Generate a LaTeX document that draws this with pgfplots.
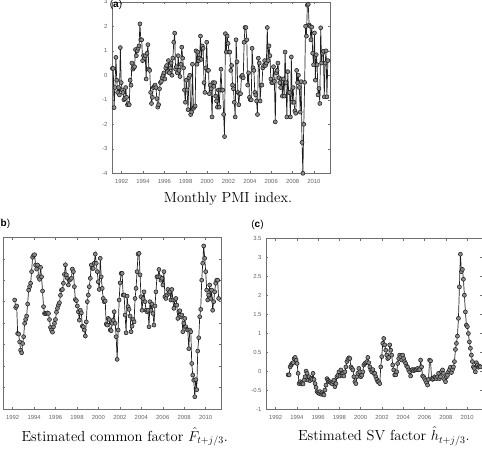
\documentclass[border=0pt]{standalone}
\usepackage{fontspec}
\usepackage{pgfplots}
\usepackage{pgfplotstable}
\pgfplotsset{compat=1.18}
\newfontfamily\tickfont{Liberation Sans}
\newfontfamily\labfont{Liberation Sans}

\definecolor{axgray}{RGB}{110,110,110}
\definecolor{lblgray}{RGB}{100,100,100}
\definecolor{serie}{RGB}{30,30,30}
\definecolor{markfill}{RGB}{140,140,140}

% Monthly PMI index, from 1991.13 onwards
\pgfplotstableread[header=false,row sep=\\]{
0.28\\0.28\\-1.32\\-0.5\\0.73\\-0.2\\-0.7\\-0.5\\-0.8\\1.13\\-0.3\\-0.6\\
-0.7\\-1.0\\-0.95\\-0.5\\-0.9\\-1.2\\-1.15\\-1.2\\-0.2\\-0.4\\0.5\\0.25\\
0.3\\0.35\\1.05\\0.8\\1.0\\1.1\\1.2\\2.1\\1.45\\1.45\\0.6\\0.8\\
0.7\\0.8\\-0.15\\0.9\\1.25\\0.25\\0.2\\-0.7\\-1.15\\-0.9\\-0.5\\-0.45\\
-0.4\\-0.5\\-0.95\\-1.3\\-1.2\\-0.55\\-0.3\\-0.25\\-0.1\\0.0\\0.1\\-0.15\\
0.3\\0.4\\0.15\\0.6\\0.1\\0.3\\0.5\\0.0\\0.7\\1.35\\1.72\\0.25\\
0.35\\0.1\\0.8\\0.2\\-0.05\\0.45\\1.15\\0.7\\0.3\\-0.6\\-1.1\\-0.2\\
-0.6\\-1.4\\-0.1\\0.0\\-1.6\\-1.5\\0.45\\-1.35\\-1.3\\-1.25\\1.0\\0.45\\
0.95\\0.6\\0.7\\1.6\\0.65\\1.2\\1.1\\-0.3\\-0.7\\0.3\\1.35\\0.2\\
0.2\\-0.75\\-0.4\\-0.55\\-1.7\\-0.3\\-0.45\\-0.3\\-0.85\\-1.05\\-1.3\\-0.6\\
-1.3\\-0.6\\0.25\\-0.6\\-0.6\\-1.6\\-2.5\\1.7\\0.95\\1.6\\1.3\\0.95\\
0.95\\0.2\\0.4\\-0.4\\-0.55\\-1.1\\-1.7\\1.45\\0.55\\-0.7\\-1.2\\-0.75\\
-0.75\\-0.05\\0.0\\-0.1\\1.35\\1.95\\1.95\\1.45\\-0.4\\0.1\\-0.9\\-1.0\\
-1.0\\1.1\\0.3\\0.2\\-0.7\\-0.8\\-1.05\\-1.6\\0.7\\0.5\\-1.05\\-0.4\\
-0.4\\0.3\\0.4\\0.6\\0.4\\0.5\\1.95\\0.6\\1.2\\0.8\\-0.15\\-0.3\\
-0.3\\0.35\\-0.25\\-1.9\\0.1\\0.2\\0.5\\-0.1\\-0.3\\-0.5\\-0.15\\-0.85\\
-0.15\\-0.85\\0.95\\-0.3\\-1.7\\0.15\\-0.7\\-0.7\\-1.7\\0.75\\-1.1\\-0.5\\
-1.1\\-1.45\\-1.55\\0.2\\-0.3\\0.0\\-0.5\\-1.5\\-0.26\\-2.74\\-4.0\\-2.0\\
-0.29\\2.0\\1.6\\2.86\\2.9\\2.05\\2.0\\1.45\\1.97\\0.9\\0.43\\1.73\\
-0.2\\0.84\\0.43\\-0.8\\-0.54\\-1.15\\1.94\\0.5\\0.9\\0.98\\-0.88\\0.5\\
1.0\\-0.88\\0.6\\
}\pmidata

% Estimated common factor, from 1992.19 onwards
\pgfplotstableread[header=false,row sep=\\]{
1.08\\0.73\\0.8\\-0.48\\-0.51\\-0.87\\-1.26\\-1.38\\-0.95\\-0.63\\-0.01\\0.17\\0.33\\0.89\\1.54\\1.7\\1.86\\2.4\\3.07\\3.16\\
3.19\\2.71\\2.52\\2.71\\2.16\\2.04\\2.6\\2.16\\1.5\\0.77\\0.45\\0.45\\0.45\\0.48\\0.45\\0.17\\-0.2\\-0.32\\-0.42\\-0.17\\
-0.01\\0.17\\0.51\\0.69\\0.84\\0.95\\1.3\\1.54\\1.57\\1.86\\2.27\\2.72\\2.25\\2.09\\1.78\\2.0\\2.04\\2.09\\2.52\\2.4\\
1.7\\1.1\\1.05\\0.8\\0.53\\0.14\\0.6\\0.48\\-0.14\\-0.17\\-0.32\\-0.6\\0.06\\1.0\\1.31\\1.7\\2.09\\2.71\\2.55\\2.55\\
2.79\\3.22\\2.79\\2.4\\1.93\\1.57\\3.02\\2.16\\1.62\\1.15\\1.0\\1.03\\-0.04\\-0.09\\0.22\\0.17\\-0.32\\-0.35\\-0.01\\0.14\\
0.53\\-0.01\\-0.63\\-1.69\\-0.32\\1.08\\1.88\\
2.32\\2.32\\1.31\\1.31\\0.38\\-0.45\\1.26\\0.77\\0.64\\0.33\\-0.4\\-0.14\\0.17\\0.06\\1.15\\1.62\\2.4\\3.22\\3.25\\2.25\\
1.23\\0.6\\1.15\\1.46\\1.0\\0.6\\0.53\\0.6\\-0.17\\1.0\\0.6\\0.89\\0.45\\-0.09\\0.8\\1.46\\2.16\\2.16\\2.5\\2.16\\
2.0\\2.09\\1.78\\2.4\\1.23\\1.15\\1.31\\1.57\\1.39\\1.46\\1.08\\1.57\\1.08\\0.69\\1.08\\1.15\\0.84\\0.22\\0.53\\0.58\\
0.3\\0.38\\-0.4\\-0.01\\0.22\\-0.17\\-0.29\\-0.32\\-1.19\\-0.32\\-0.4\\-1.88\\-2.42\\-2.66\\-3.43\\-2.63\\-3.1\\-1.3\\-0.68\\0.3\\
0.64\\2.0\\2.79\\3.6\\3.02\\2.4\\1.54\\1.08\\1.31\\1.78\\1.15\\1.54\\0.6\\1.0\\1.46\\1.86\\2.0\\2.0\\1.15\\
}\cfdata

% Estimated SV factor, from 1993.18 onwards
\pgfplotstableread[header=false,row sep=\\]{
-0.1\\-0.1\\0.11\\0.16\\0.2\\0.22\\0.33\\0.36\\0.29\\0.2\\-0.06\\-0.33\\-0.28\\-0.34\\-0.31\\-0.34\\-0.24\\-0.15\\0.0\\-0.06\\
-0.24\\-0.15\\-0.25\\-0.19\\-0.22\\-0.06\\-0.22\\-0.33\\-0.43\\-0.54\\-0.57\\-0.59\\-0.54\\-0.61\\-0.57\\-0.61\\-0.63\\-0.5\\-0.37\\-0.2\\
-0.24\\-0.28\\-0.28\\-0.31\\-0.33\\-0.28\\-0.24\\-0.41\\-0.33\\-0.15\\-0.11\\-0.02\\-0.13\\0.03\\-0.11\\-0.06\\-0.13\\-0.02\\0.11\\0.25\\
0.31\\0.35\\0.33\\0.11\\0.07\\0.03\\-0.15\\-0.28\\-0.33\\-0.15\\-0.06\\0.07\\-0.02\\-0.15\\-0.11\\-0.02\\0.16\\0.2\\0.22\\0.25\\
0.36\\0.22\\0.11\\0.03\\-0.02\\0.04\\-0.06\\
-0.06\\-0.15\\-0.22\\-0.28\\-0.28\\-0.33\\0.11\\0.38\\0.73\\0.86\\0.69\\0.55\\0.42\\0.33\\0.36\\0.69\\0.55\\0.42\\0.16\\0.03\\
-0.1\\-0.1\\-0.02\\0.2\\0.33\\0.42\\0.38\\0.29\\0.42\\0.33\\0.25\\0.2\\0.13\\0.1\\0.03\\-0.02\\-0.13\\0.03\\0.04\\0.01\\
0.04\\0.03\\0.04\\0.07\\0.03\\0.04\\0.29\\0.11\\-0.13\\-0.15\\-0.2\\-0.25\\-0.31\\-0.37\\-0.22\\0.29\\0.27\\-0.2\\-0.22\\-0.2\\
-0.15\\-0.17\\-0.2\\-0.15\\-0.06\\-0.2\\-0.15\\-0.02\\0.03\\-0.06\\-0.22\\-0.28\\-0.15\\-0.11\\-0.02\\0.03\\0.1\\-0.04\\0.04\\0.11\\
0.25\\0.57\\0.73\\0.92\\1.39\\2.22\\3.08\\2.62\\2.68\\2.42\\2.0\\1.56\\1.21\\1.17\\0.99\\0.77\\0.6\\0.42\\0.25\\0.11\\
0.07\\-0.02\\0.22\\0.16\\0.1\\0.13\\0.11\\
}\svdata

\pgfplotsset{
  panel/.style={
    scale only axis,
    anchor=south west,
    axis line style={axgray, line width=0.55pt},
    tick style={axgray, line width=0.45pt},
    major tick length=2.4pt,
    tick align=inside,
    xmin=1991.1, xmax=2011.5,
    xtick={1992,1994,...,2010},
    /pgf/number format/assume math mode=true,
    xticklabel style={font=\fontsize{5.9}{6}\tickfont, text=lblgray,
      /pgf/number format/1000 sep={}, yshift=-2.5pt},
    yticklabel style={font=\fontsize{5.9}{6}\tickfont, text=lblgray, xshift=-1pt},
    clip=false,
  },
  series/.style={serie, line width=0.7pt, mark=*, mark size=2pt,
    mark options={draw=serie, fill=markfill, line width=0.55pt}},
}

\begin{document}
\begin{tikzpicture}[x=1pt,y=1pt]
\path[use as bounding box] (0,0) rectangle (482,450);
\clip (0,0) rectangle (482,450);

% (a) Monthly PMI index
\begin{axis}[panel, at={(112pt,276.7pt)}, width=218pt, height=171.5pt,
  ymin=-4, ymax=3, ytick={-4,...,3}]
\addplot[series] table[x expr={1991.13+\coordindex/12}, y index=0] {\pmidata};
\end{axis}

% (b) Estimated common factor
\begin{axis}[panel, at={(3pt,41pt)}, width=218.7pt, height=171.7pt,
  ymin=-4, ymax=4, ytick={-4,...,4}]
\addplot[series] table[x expr={1992.19+\coordindex*0.0928}, y index=0] {\cfdata};
\end{axis}

% (c) Estimated SV factor
\begin{axis}[panel, at={(266pt,41pt)}, width=216pt, height=170.7pt,
  xmax=2011.4, ymin=-1, ymax=3.5, ytick={-1,-0.5,...,3.5}]
\addplot[series] table[x expr={1993.18+\coordindex*0.0936}, y index=0] {\svdata};
\end{axis}

% panel letters
\node[font=\fontsize{10}{12}\labfont, anchor=center] at (116,445) {(\textbf{a})};
\node[font=\fontsize{10}{12}\labfont, anchor=center] at (3.8,226.5) {(\textbf{b})};
\node[font=\fontsize{10}{12}\labfont, anchor=center] at (257.5,225.5) {(\textbf{c})};

% captions
\node[font=\fontsize{14.6}{17}\selectfont, anchor=base] at (228,247.3) {Monthly PMI index.};
\node[font=\fontsize{14.6}{17}\selectfont, anchor=base] at (124.7,9) {Estimated common factor $\hat{F}_{t+j/3}$.};
\node[font=\fontsize{14.6}{17}\selectfont, anchor=base] at (383.8,9.3) {Estimated SV factor $\hat{h}_{t+j/3}$.};
\end{tikzpicture}
\end{document}
